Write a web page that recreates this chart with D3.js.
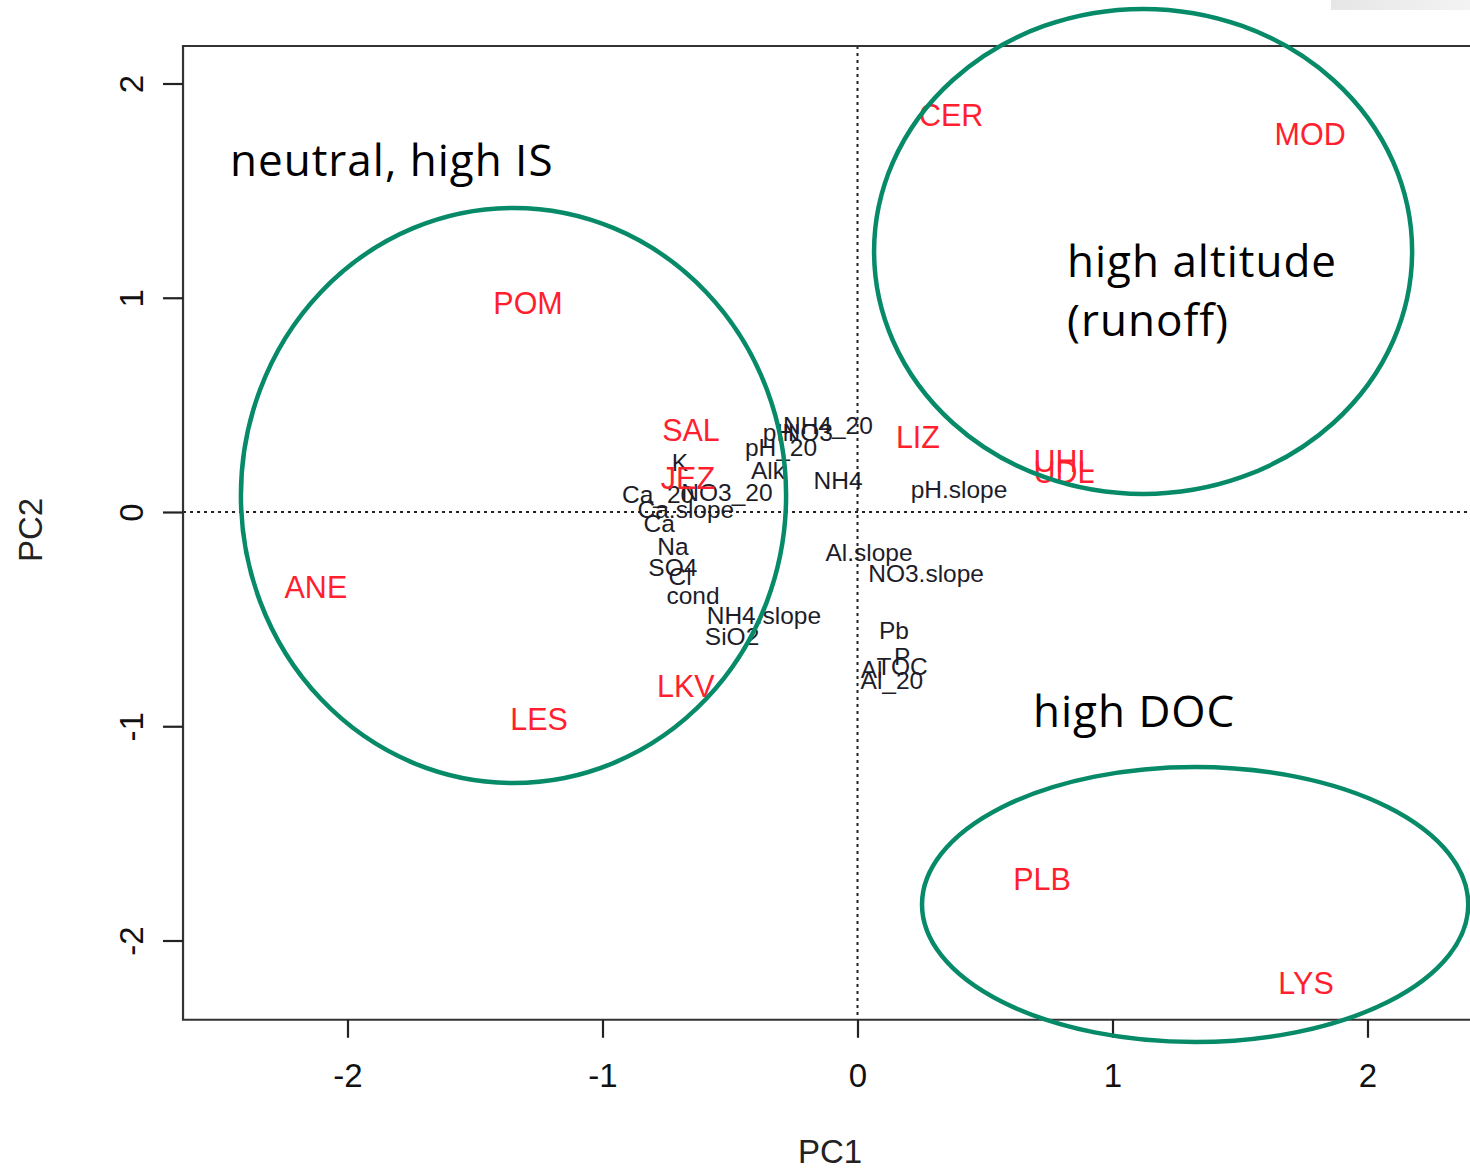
<!DOCTYPE html>
<html>
<head>
<meta charset="utf-8">
<script src="https://cdn.jsdelivr.net/npm/d3@7"></script>
<style>
  body { margin: 0; background: #fff; }
  svg { display: block; }
</style>
</head>
<body>
<script>
// sites (red) - PCA scores
var siteNames = ["CER", "MOD", "POM", "SAL", "JEZ", "LIZ", "UHL", "UDL", "ANE", "LKV", "LES", "PLB", "LYS"];
var siteX = [0.367, 1.775, -1.292, -0.653, -0.665, 0.237, 0.810, 0.810, -2.124, -0.673, -1.249, 0.724, 1.759];
var siteY = [1.853, 1.764, 0.975, 0.383, 0.159, 0.350, 0.238, 0.187, -0.350, -0.812, -0.966, -1.713, -2.198];

// variables (black) - loadings
var varNames = ["NH4_20", "pH", "NO3", "pH_20", "Alk", "NH4", "K", "Ca_20", "NO3_20", "Ca.slope", "Ca", "Na", "SO4", "Cl", "cond",
  "NH4.slope", "SiO2", "Al.slope", "NO3.slope", "pH.slope", "Pb", "P", "TOC", "Al", "Al_20"];
var varX = [-0.116, -0.310, -0.195, -0.300, -0.351, -0.076, -0.696, -0.782, -0.512, -0.673, -0.778, -0.724, -0.724, -0.696, -0.645,
  -0.367, -0.492, 0.045, 0.269, 0.398, 0.143, 0.175, 0.175, 0.055, 0.135];
var varY = [0.406, 0.370, 0.372, 0.299, 0.196, 0.145, 0.233, 0.084, 0.089, 0.014, -0.056, -0.159, -0.257, -0.303, -0.392,
  -0.481, -0.579, -0.187, -0.285, 0.107, -0.555, -0.676, -0.720, -0.735, -0.785];

// group ellipses in data units
var grpCx = [-1.349, 1.120, 1.324];
var grpCy = [0.077, 1.216, -1.832];
var grpRx = [1.069, 1.055, 1.071];
var grpRy = [1.342, 1.132, 0.642];

var ticks = [-2, -1, 0, 1, 2];

var W = 1470, H = 1171;
var x = d3.scaleLinear().domain([-2, 2]).range([347.5, 1367.5]);
var y = d3.scaleLinear().domain([-2, 2]).range([940.5, 83.5]);

var svg = d3.select("body").append("svg")
    .attr("width", W).attr("height", H)
    .style("font-family", "'Liberation Sans', Arial, sans-serif");

// grey strip top right
var grad = svg.append("defs").append("linearGradient").attr("id", "gs");
grad.append("stop").attr("offset", "0").attr("stop-color", "#e6e6e6");
grad.append("stop").attr("offset", "1").attr("stop-color", "#f3f3f3");
svg.append("rect").attr("x", 1331).attr("y", 0).attr("width", 139).attr("height", 10).attr("fill", "url(#gs)");

var boxL = x(-2.645), boxT = y(2.175), boxB = y(-2.37);

// zero reference lines
svg.append("line")
    .attr("x1", boxL).attr("x2", W).attr("y1", y(0)).attr("y2", y(0))
    .attr("stroke", "#222").attr("stroke-width", 2).attr("stroke-dasharray", "3,4");
svg.append("line")
    .attr("x1", x(0)).attr("x2", x(0)).attr("y1", boxT).attr("y2", boxB)
    .attr("stroke", "#222").attr("stroke-width", 2).attr("stroke-dasharray", "3,4");

// box (right side is off the picture)
svg.append("path")
    .attr("d", "M" + (W + 10) + "," + boxT + "H" + boxL + "V" + boxB + "H" + (W + 10))
    .attr("fill", "none").attr("stroke", "#333").attr("stroke-width", 2.2);

// x axis
var xAxis = svg.append("g")
    .attr("transform", "translate(0," + boxB + ")")
    .call(d3.axisBottom(x).tickValues(ticks).tickSize(18).tickPadding(26).tickFormat(d3.format("d")));
xAxis.select(".domain").remove();
xAxis.selectAll(".tick line").attr("stroke", "#222").attr("stroke-width", 2.2);
xAxis.selectAll(".tick text").attr("fill", "#111").style("font-size", "33px")
    .style("font-family", "'Liberation Sans', Arial, sans-serif")
    .text(function (d) { return d < 0 ? "-" + Math.abs(d) : d; });

// y axis
var yAxis = svg.append("g")
    .attr("transform", "translate(" + boxL + ",0)")
    .call(d3.axisLeft(y).tickValues(ticks).tickSize(20).tickFormat(d3.format("d")));
yAxis.select(".domain").remove();
yAxis.selectAll(".tick line").attr("stroke", "#222").attr("stroke-width", 2.2);
yAxis.selectAll(".tick text")
    .attr("x", 0).attr("dy", null)
    .attr("transform", "translate(-52,0) rotate(-90)")
    .attr("text-anchor", "middle").attr("dominant-baseline", "central")
    .attr("fill", "#111").style("font-size", "33px")
    .style("font-family", "'Liberation Sans', Arial, sans-serif")
    .text(function (d) { return d < 0 ? "-" + Math.abs(d) : d; });

// axis titles
svg.append("text").attr("x", 830).attr("y", 1163).attr("text-anchor", "middle")
    .style("font-size", "33px").attr("fill", "#222").text("PC1");
svg.append("text").attr("transform", "translate(42,530) rotate(-90)").attr("text-anchor", "middle")
    .style("font-size", "33px").attr("fill", "#222").text("PC2");

// variable labels
svg.append("g").selectAll("text").data(varNames).enter().append("text")
    .attr("x", function (d, i) { return x(varX[i]); })
    .attr("y", function (d, i) { return y(varY[i]); })
    .attr("text-anchor", "middle").attr("dominant-baseline", "central")
    .style("font-size", "24.5px").attr("fill", "#1d1d2a")
    .text(function (d) { return d; });

// site labels
svg.append("g").selectAll("text").data(siteNames).enter().append("text")
    .attr("x", function (d, i) { return x(siteX[i]); })
    .attr("y", function (d, i) { return y(siteY[i]); })
    .attr("text-anchor", "middle").attr("dominant-baseline", "central")
    .style("font-size", "30.5px").attr("fill", "#ff1f2f")
    .text(function (d) { return d; });

// group ellipses
svg.append("g").selectAll("ellipse").data(grpCx).enter().append("ellipse")
    .attr("cx", function (d) { return x(d); })
    .attr("cy", function (d, i) { return y(grpCy[i]); })
    .attr("rx", function (d, i) { return x(grpRx[i]) - x(0); })
    .attr("ry", function (d, i) { return y(0) - y(grpRy[i]); })
    .attr("fill", "none").attr("stroke", "#078a68").attr("stroke-width", 4.5);

// annotations
var notes = [
  { t: "neutral, high IS", x: 230, y: 176 },
  { t: "high altitude", x: 1067, y: 277 },
  { t: "(runoff)", x: 1067, y: 336 },
  { t: "high DOC", x: 1033, y: 727 }
];
svg.append("g").selectAll("text").data(notes).enter().append("text")
    .attr("x", function (d) { return d.x; }).attr("y", function (d) { return d.y; })
    .style("font-family", "'Open Sans', sans-serif").style("font-size", "44px")
    .style("letter-spacing", "1px")
    .attr("fill", "#000").text(function (d) { return d.t; });
</script>
</body>
</html>
